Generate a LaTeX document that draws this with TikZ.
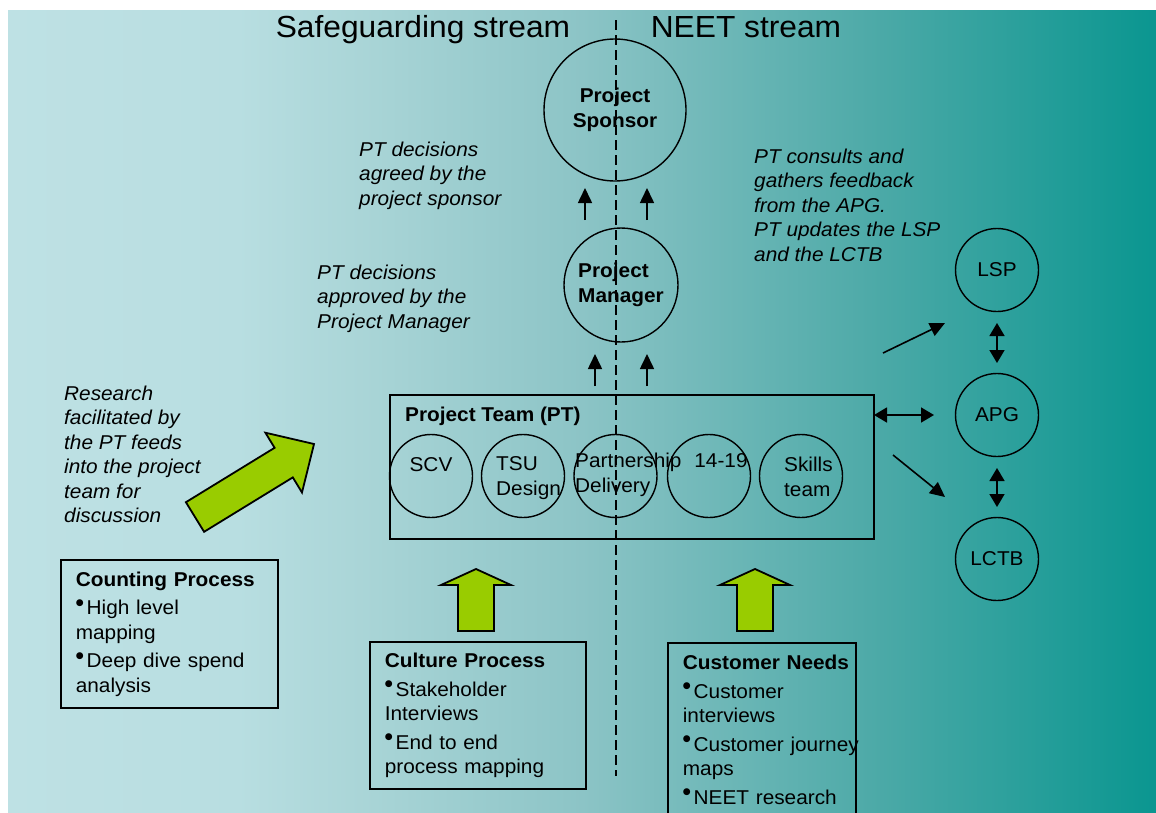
\documentclass[tikz,border=0pt]{standalone}
\usepackage{fontspec}
\setmainfont{Liberation Sans}[FakeStretch=1.04]
\newfontfamily\dotfont{DejaVu Sans}
\usetikzlibrary{arrows.meta}

\definecolor{leaf}{RGB}{153,204,0}
\definecolor{wa}{RGB}{190,225,228}
\definecolor{wb}{RGB}{184,222,225}
\definecolor{wc}{RGB}{168,212,214}
\definecolor{wd}{RGB}{140,196,198}
\definecolor{we}{RGB}{78,170,168}
\definecolor{wf}{RGB}{10,150,144}
% horizontal wash: 25bp..75bp spans the filled rectangle
\pgfdeclarehorizontalshading{wash}{100bp}{color(0bp)=(wa); color(25bp)=(wa);
  color(35bp)=(wb); color(41bp)=(wc); color(50bp)=(wd); color(62.5bp)=(we);
  color(75bp)=(wf); color(100bp)=(wf)}

% small raised bullet used in the panels
\newcommand\bul{\raisebox{9.5pt}{\dotfont\fontsize{9}{9}\selectfont ●}\hspace{3pt}}

\begin{document}
\begin{tikzpicture}[x=1pt,y=-1pt,
  every node/.style={inner sep=0pt},
  head/.style={font=\fontsize{30.5}{36}\selectfont, anchor=base},
  note/.style={font=\fontsize{20}{24.5}\selectfont\itshape, align=left, anchor=north west},
  bubble/.style={circle, draw, line width=1.4pt, font=\fontsize{20}{24.5}\selectfont},
  boldbubble/.style={bubble, font=\fontsize{20}{24.5}\selectfont\bfseries},
  member/.style={circle, draw, line width=1.4pt, minimum size=83pt},
  tag/.style={font=\fontsize{20}{24.5}\selectfont, align=left},
  panel/.style={draw, line width=1.7pt, anchor=north west, align=left,
    inner xsep=15pt, inner ysep=0pt, font=\fontsize{20}{24.5}\selectfont},
  link/.style={line width=1.6pt, -{Triangle[length=15pt,width=14pt]}},
  twoway/.style={line width=1.6pt,
    {Triangle[length=13pt,width=15pt]}-{Triangle[length=13pt,width=15pt]}},
  block/.style={fill=leaf, draw=black, line width=1.8pt, line join=miter},
  divider/.style={line width=2.4pt, dash pattern=on 10pt off 5pt}
]
\useasboundingbox (0,0) rectangle (1156,812);
\clip (0,0) rectangle (1156,812);
\fill[white] (0,0) rectangle (1156,812);
\shade[shading=wash] (8,10) rectangle (1156,812);

% stream divider
\coordinate (dtop) at (616,20);
\coordinate (dbot) at (616,776);
\draw[divider] (dtop) -- (dbot);

% stream headings
\node[head] (hs) at (423,37.5) {Safeguarding stream};
\node[head] (hn) at (746,37.5) {NEET stream};

% governance
\node[boldbubble, minimum size=142pt, align=center] (sp) at (615,110) {Project\\Sponsor};
\node[boldbubble, minimum size=114pt, align=left] (pm) at (621,285) {Project\\Manager};

% project team
\node[draw, line width=1.6pt, minimum width=484pt, minimum height=144pt,
  anchor=north west] (pt) at (389,394) {};
\node[font=\fontsize{20}{24.5}\selectfont\bfseries, anchor=base west] (ptt) at (405,421.5) {Project Team (PT)};

\node[member] (scv) at (431,476) {};
\node[member] (tsu) at (523,476) {};
\node[member] (par) at (615.5,476) {};
\node[member] (yth) at (709,476) {};
\node[member] (skl) at (801,476) {};
\node[tag] (scvt) at (431,465) {SCV};
\node[tag, anchor=west] (tsut) at (496,478) {TSU\\Design};
\node[tag, anchor=west] (part) at (575,475) {Partnership\\Delivery};
\node[tag] (ytht) at (721,461) {14-19};
\node[tag, anchor=west] (sklt) at (784,477) {Skills\\team};

% partners
\node[bubble, minimum size=83pt] (lsp) at (997,270) {LSP};
\node[bubble, minimum size=83pt] (apg) at (997,415) {APG};
\node[bubble, minimum size=83pt] (lctb) at (997,559) {LCTB};

% notes
\node[note] (n1) at (359,141.4) {PT decisions\\agreed by the\\project sponsor};
\node[note] (n2) at (317,264.4) {PT decisions\\approved by the\\Project Manager};
\node[note] (n3) at (754,148.4) {PT consults and\\gathers feedback\\from the APG.\\PT updates the LSP\\and the LCTB};
\node[note] (n4) at (64,385.4) {Research\\facilitated by\\the PT feeds\\into the project\\team for\\discussion};

% workstream panels
\node[panel, text width=187pt, minimum height=148pt] (count) at (60,559)
  {\textbf{Counting Process}\\[4pt]\bul High level\\mapping\\[4pt]\bul Deep dive spend\\analysis};
\node[panel, text width=186pt, minimum height=147pt] (cult) at (369,641)
  {\textbf{Culture Process}\\[4pt]\bul Stakeholder\\Interviews\\[4pt]\bul End to end\\process mapping};
\node[panel, text width=158pt, minimum height=174pt] (cust) at (667,642)
  {\mbox{\textbf{Customer Needs}}\\[4pt]\mbox{\bul Customer}\\interviews\\[4pt]\mbox{\bul Customer journey}\\maps\\[4pt]\mbox{\bul NEET research}};

% block arrows feeding the team
\filldraw[block] (185.9,502.2) -- (274.6,447.8) -- (265.4,432.7) -- (314,444)
  -- (302,492.5) -- (292.8,477.4) -- (204.1,531.8) -- cycle;
\filldraw[block] (458,631) -- (458,585) -- (441,585) -- (476,569) -- (511,585)
  -- (494,585) -- (494,631) -- cycle;
\filldraw[block] (737,631) -- (737,585) -- (720,585) -- (755,569) -- (790,585)
  -- (773,585) -- (773,631) -- cycle;

% approval arrows
\coordinate (u1a) at (585,220); \coordinate (u1b) at (585,188);
\coordinate (u2a) at (647,220); \coordinate (u2b) at (647,188);
\coordinate (u3a) at (595,386); \coordinate (u3b) at (595,354);
\coordinate (u4a) at (647,386); \coordinate (u4b) at (647,354);
\draw[link] (u1a) -- (u1b);
\draw[link] (u2a) -- (u2b);
\draw[link] (u3a) -- (u3b);
\draw[link] (u4a) -- (u4b);

% consultation arrows
\coordinate (r1a) at (874,415); \coordinate (r1b) at (934,415);
\coordinate (r2a) at (997,323); \coordinate (r2b) at (997,363);
\coordinate (r3a) at (997,468); \coordinate (r3b) at (997,507);
\coordinate (r4a) at (883,353); \coordinate (r4b) at (945,323);
\coordinate (r5a) at (893,455); \coordinate (r5b) at (945,497);
\draw[twoway] (r1a) -- (r1b);
\draw[twoway] (r2a) -- (r2b);
\draw[twoway] (r3a) -- (r3b);
\draw[link] (r4a) -- (r4b);
\draw[link] (r5a) -- (r5b);
\end{tikzpicture}
\end{document}
